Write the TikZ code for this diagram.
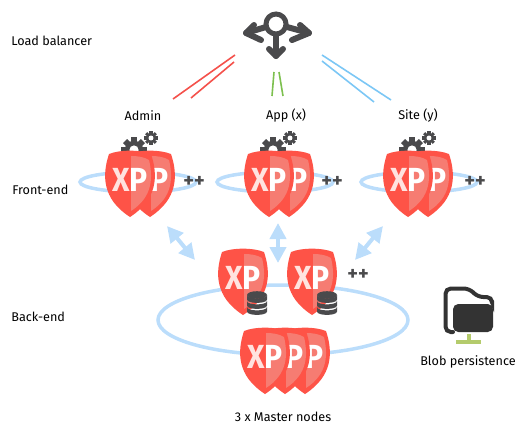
\documentclass[tikz,border=0pt]{standalone}
\usepackage{fontspec}
\setmainfont{Fira Sans}
\usepackage{xcolor}
\usepackage{graphicx}
\usetikzlibrary{calc,arrows.meta}
\definecolor{shieldred}{HTML}{FE5347}
\definecolor{shieldlight}{HTML}{F67C72}
\definecolor{xpwhite}{HTML}{FFE3DF}
\definecolor{dark}{HTML}{4A4A4C}
\definecolor{ringblue}{HTML}{BBDDFB}
\definecolor{linered}{HTML}{F4514B}
\definecolor{linegreen}{HTML}{7DC04F}
\definecolor{lineblue}{HTML}{7CC7F5}
\definecolor{plug}{HTML}{B4CB6C}
\tikzset{
  lab/.style={text=black, font=\fontsize{7.2}{9}\selectfont},
  plus/.style={text=dark, font=\fontsize{11.5}{12}\selectfont\bfseries},
  ring/.style={draw=ringblue, line width=0.07cm},
  sync/.style={{Triangle[length=0.32cm,width=0.32cm]}-{Triangle[length=0.32cm,width=0.32cm]}, draw=ringblue, fill=ringblue, line width=0.08cm},
  lbarm/.style={draw=dark, line width=0.12cm, line cap=round, line join=round},
  feed/.style={line width=0.032cm},
  xplab/.style={font=\fontsize{19}{18}\selectfont\bfseries, inner sep=0pt},
  shieldbody/.pic={
    \fill[shieldred] (-21,-29) .. controls (-10,-33.5) and (10,-33.5) .. (21,-29)
      .. controls (28,-8) and (28,16) .. (0,34) .. controls (-28,16) and (-28,-8) .. (-21,-29) -- cycle;
    \fill[shieldlight] (1,-27) .. controls (8,-27) and (14,-26) .. (19,-23)
      .. controls (23,-6) and (23,14) .. (1,28) -- cycle;
  },
  shieldpic/.pic={
    \pic {shieldbody};
    \node[xplab] (-xp) at (0,-3) {\scalebox{0.9}[1]{\textcolor{xpwhite}{X}\textcolor{white}{P}}};
  },
  shieldback/.pic={
    \pic {shieldbody};
    \node[xplab, anchor=west] (-p) at (0.5,-3) {\scalebox{0.9}[1]{\textcolor{white}{P}}};
  },
  gearpic/.pic={
    \fill[dark] (0,0) circle (8);
    \foreach \a in {0,45,...,315}
      \fill[dark, rotate=\a] (-2.5,-11) rectangle (2.5,0);
    \fill[white] (0,0) circle (4);
  },
  dbpic/.pic={
    \fill[dark] (0,-7) ellipse (10 and 3.8);
    \foreach \y in {-5,1,7}
      \fill[dark] (-10,\y-2) .. controls (-10,\y+2.5) and (10,\y+2.5) .. (10,\y-2)
        -- (10,\y+2.5) .. controls (10,\y+7) and (-10,\y+7) .. (-10,\y+2.5) -- cycle;
  }
}

\begin{document}
\begin{tikzpicture}[x=0.02cm,y=-0.02cm]
  \useasboundingbox (0,0) rectangle (530,436);

  % rings
  \draw[ring] (138,182) ellipse (58 and 10);
  \draw[ring] (275,182) ellipse (58 and 10);
  \draw[ring] (419,182) ellipse (58 and 10);
  \draw[ring] (283,320) ellipse (125 and 35);

  % load balancer
  \coordinate (LB) at (276,24);
  \coordinate (LBleft) at (246,33);
  \coordinate (LBright) at (309,33);
  \coordinate (LBdown) at (276,56);
  \draw[lbarm] (LB) -- (LBleft);
  \draw[lbarm] (LB) -- (LBright);
  \draw[lbarm] (LB) -- (LBdown);
  \draw[lbarm] (254,25) -- (LBleft) -- (261,40);
  \draw[lbarm] (300,25) -- (LBright) -- (292,40);
  \draw[lbarm] (269,49) -- (LBdown) -- (283,49);
  \draw[dark, fill=white, line width=0.1cm] (LB) circle (10);

  % feeds from the balancer
  \coordinate (redA) at (235,55);
  \coordinate (redB) at (173,99);
  \coordinate (redC) at (234,62);
  \coordinate (redD) at (191,98);
  \coordinate (greenA) at (274,72);
  \coordinate (greenB) at (272,96);
  \coordinate (greenC) at (279,72);
  \coordinate (greenD) at (283,96);
  \coordinate (blueA) at (322,55);
  \coordinate (blueB) at (391,100);
  \coordinate (blueC) at (322,61);
  \coordinate (blueD) at (374,102);
  \draw[feed, linered] (redA) -- (redB);
  \draw[feed, linered] (redC) -- (redD);
  \draw[feed, linegreen] (greenA) -- (greenB);
  \draw[feed, linegreen] (greenC) -- (greenD);
  \draw[feed, lineblue] (blueA) -- (blueB);
  \draw[feed, lineblue] (blueC) -- (blueD);

  % front-end groups
  \foreach \n/\cx in {adm/130,app/269,sit/408} {
    \pic[scale=1.15] (\n gearA) at (\cx+4,150) {gearpic};
    \pic[scale=0.62] (\n gearB) at (\cx+21,138) {gearpic};
    \pic (\n B) at (\cx+20,183) {shieldback};
    \pic (\n A) at (\cx,183) {shieldpic};
  }

  % back-end
  \pic (backA) at (243,281) {shieldpic};
  \pic (backB) at (312,281) {shieldpic};
  \pic (dbA) at (257,302) {dbpic};
  \pic (dbB) at (327,302) {dbpic};

  % masters
  \pic (mastC) at (305,360) {shieldback};
  \pic (mastB) at (285,360) {shieldback};
  \pic (mastA) at (265,360) {shieldpic};

  % sync arrows
  \coordinate (syncLa) at (167,226);
  \coordinate (syncLb) at (195,260);
  \coordinate (syncMa) at (278,223);
  \coordinate (syncMb) at (278,263);
  \coordinate (syncRa) at (383,226);
  \coordinate (syncRb) at (355,260);
  \draw[sync] (syncLa) -- (syncLb);
  \draw[sync] (syncMa) -- (syncMb);
  \draw[sync] (syncRa) -- (syncRb);

  % blob folder
  \fill[black!80, rounded corners=3] (453,304) rectangle (493,332);
  \draw[black!80, line width=0.08cm, rounded corners=3, line cap=round]
    (453,332) -- (445.5,332) -- (445.5,288.5) -- (469,288.5) -- (478,297) -- (492,297) -- (492,301);
  \draw[plug, line width=0.07cm] (469,334) -- (469,342);
  \draw[plug, line width=0.08cm] (456,342) -- (481,342);

  % labels
  \node[lab, anchor=west, inner sep=0pt] (lblLoad) at (11,41) {Load balancer};
  \node[lab, anchor=west, inner sep=0pt] (lblFront) at (12,190) {Front-end};
  \node[lab, anchor=west, inner sep=0pt] (lblBack) at (11,317) {Back-end};
  \node[lab, inner sep=0pt] (lblAdmin) at (143,116) {Admin};
  \node[lab, inner sep=0pt] (lblApp) at (286,116) {App (x)};
  \node[lab, inner sep=0pt] (lblSite) at (418,116) {Site (y)};
  \node[lab, inner sep=0pt] (lblBlob) at (468,362) {Blob persistence};
  \node[lab, inner sep=0pt] (lblMaster) at (283,417) {3 x Master nodes};
  \node[plus, inner sep=0pt] (plusA) at (194,182) {++};
  \node[plus, inner sep=0pt] (plusB) at (332,182) {++};
  \node[plus, inner sep=0pt] (plusC) at (475,182) {++};
  \node[plus, inner sep=0pt] (plusD) at (358,275) {++};
\end{tikzpicture}
\end{document}
